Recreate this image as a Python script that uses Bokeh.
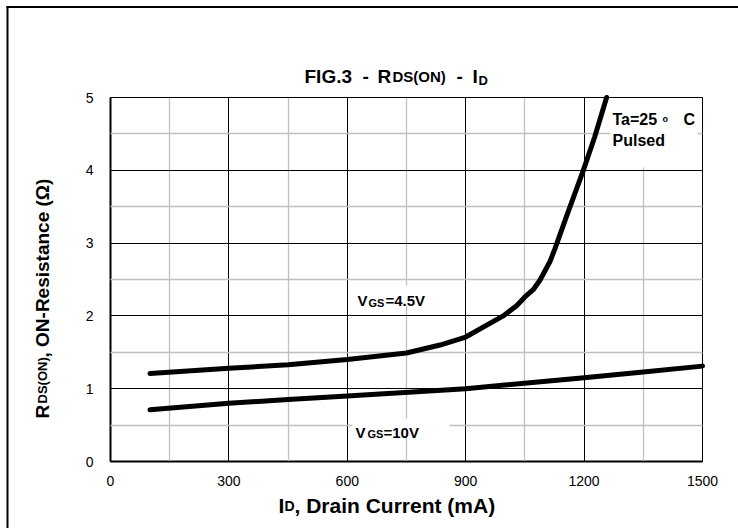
from bokeh.plotting import figure
from bokeh.models import Range1d, FixedTicker, Label, BoxAnnotation
from bokeh.embed import file_html
from bokeh.resources import INLINE
import math

# ---- data ----
x_ticks = [0, 300, 600, 900, 1200, 1500]
x_minor = [150, 450, 750, 1050, 1350]
y_ticks = [0, 1, 2, 3, 4, 5]
y_minor = [0.5, 1.5, 2.5, 3.5, 4.5]

id_45 = [100, 300, 450, 600, 750, 835, 900, 995, 1029, 1050, 1071, 1088, 1113, 1126, 1155, 1198, 1227, 1257]
r_45 = [1.21, 1.28, 1.33, 1.40, 1.49, 1.60, 1.71, 2.00, 2.14, 2.26, 2.36, 2.49, 2.74, 2.92, 3.36, 4.00, 4.46, 5.00]

id_10 = [100, 300, 450, 600, 900, 1200, 1350, 1500]
r_10 = [0.71, 0.80, 0.85, 0.90, 1.00, 1.15, 1.23, 1.31]

FONT = "Liberation Sans"

# canvas size and pixel position of the data box (0..1500, 0..5)
W, H = 738, 528
PX0, PX1, PY0, PY1 = 110, 702, 461, 97
XS = (PX1 - PX0) / 1500.0   # px per mA
YS = (PY0 - PY1) / 5.0      # px per ohm

p = figure(width=W, height=H, output_backend="svg", toolbar_location=None,
           x_range=Range1d(-PX0 / XS, (W - PX0) / XS),
           y_range=Range1d(-(H - PY0) / YS, PY0 / YS),
           min_border=0)
p.background_fill_color = "white"
p.border_fill_color = "white"
p.outline_line_color = None
p.xgrid.visible = False
p.ygrid.visible = False

xa = p.xaxis[0]
ya = p.yaxis[0]
xa.fixed_location = 0
ya.fixed_location = 0
xa.bounds = (0, 1500)
ya.bounds = (0, 5)
xa.ticker = FixedTicker(ticks=x_ticks, minor_ticks=x_minor)
ya.ticker = FixedTicker(ticks=y_ticks, minor_ticks=y_minor)
# ticks drawn inward across the whole box act as the grid
xa.major_tick_in = PY0 - PY1
ya.major_tick_in = PX1 - PX0
xa.minor_tick_in = PY0 - PY1
ya.minor_tick_in = PX1 - PX0
for ax in (xa, ya):
    ax.major_tick_out = 0
    ax.minor_tick_out = 0
    ax.major_tick_line_color = "black"
    ax.major_tick_line_width = 1
    ax.minor_tick_line_color = "#c0c0c0"
    ax.minor_tick_line_width = 1.3
    ax.axis_line_color = "black"
    ax.axis_line_width = 2
    ax.major_label_text_font = FONT
    ax.major_label_text_font_size = "14px"
    ax.major_label_text_color = "black"
xa.major_label_standoff = 14
ya.major_label_standoff = 17

p.line(id_45, r_45, line_color="black", line_width=5, line_cap="round", line_join="round", level="overlay")
p.line(id_10, r_10, line_color="black", line_width=5, line_cap="round", line_join="round", level="overlay")


def dx(px):
    return (px - PX0) / XS


def dy(py):
    return (PY0 - py) / YS


def box(x0, x1, y0, y1, color):
    p.add_layout(BoxAnnotation(left=dx(x0), right=dx(x1), top=dy(y0), bottom=dy(y1),
                               fill_color=color, fill_alpha=1, line_color=None))


# outer frame of the figure (left and top edges visible in the reference)
box(6, 8, 5.5, H + 50, "black")
box(6, W + 50, 5.5, 7.5, "black")

# white backgrounds behind in-plot annotations
box(354, 433, 285, 305, "white")
box(352, 449, 418, 436, "white")
box(610, 697, 98, 167, "white")


def lab(text, px, py, size, bold=True, angle=0):
    p.add_layout(Label(x=dx(px), y=dy(py), text=text, text_font=FONT,
                       text_font_size=f"{size}px",
                       text_font_style="bold" if bold else "normal",
                       text_color="black", text_baseline="alphabetic",
                       text_align="left", angle=angle))


# title
lab("FIG.3", 304, 76, 19)
lab("-", 362, 76, 19)
lab("R", 377, 76, 19)
lab("DS(ON)", 392, 76, 15)
lab("-", 456, 76, 19)
lab("I", 472, 76, 19)
lab("D", 478, 80, 13)

# y axis title (rotated)
up = math.pi / 2
lab("R", 42, 418, 19, angle=up)
lab("DS(ON)", 42, 403, 13, angle=up)
lab(", ON-Resistance (\u03a9)", 42, 357, 19, angle=up)

# x axis title
lab("I", 278, 505, 21)
lab("D", 284, 505, 14)
lab(", Drain Current (mA)", 294, 505, 21)

# in-plot annotations
lab("V", 357, 300, 15)
lab("GS", 368, 302, 11)
lab("=4.5V", 385, 300, 15)

lab("V", 355, 431.5, 15)
lab("GS", 367, 433.5, 11)
lab("=10V", 383, 431.5, 15)

lab("Ta=25", 612, 118.5, 16)
lab("o", 662, 118.5, 9)
lab("C", 683, 118.5, 16)
lab("Pulsed", 612, 139.5, 16)

open("out.html", "w").write(file_html(p, INLINE))
